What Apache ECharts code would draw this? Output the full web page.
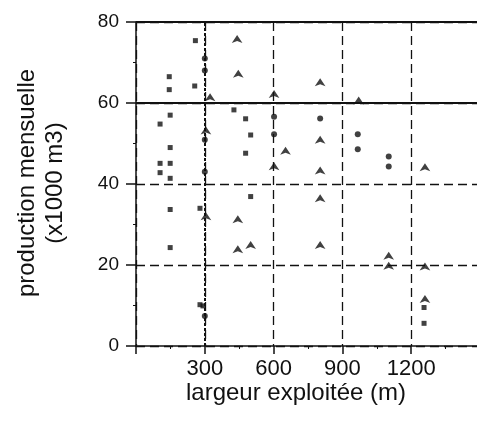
<!DOCTYPE html>
<html>
<head>
<meta charset="utf-8">
<script src="https://cdn.jsdelivr.net/npm/echarts@6/dist/echarts.min.js"></script>
<style>html,body{margin:0;padding:0;background:#fff}#c{width:477px;height:432px}</style>
</head>
<body>
<div id="c"></div>
<script>
// --- data (largeur exploitée m, production x1000 m3) ---
var squares = [[259,75.4],[145,66.5],[145,63.3],[256,64.2],[427,58.3],[478,56.1],[149,57],[105,54.8],[500,52.1],[149,49],[478,47.6],[105,45.1],[149,45.1],[105,42.8],[149,41.4],[500,36.9],[149,33.7],[149,24.3],[279,34],[279,10.2],[292,9.9],[1256,9.5],[1256,5.6]];
var dots = [[300,71],[300,68],[300,43],[602,56.6],[602,52.3],[300,50.9],[803,56.2],[967,52.3],[967,48.6],[1102,44.3],[1102,46.8],[300,7.4]];
var arrows = [[441,76.8],[446,68.2],[323,62.4],[803,66.1],[602,63.2],[305,54.2],[652,49.2],[602,45.4],[803,44.3],[803,51.9],[803,37.5],[305,33],[444,32.3],[444,24.9],[500,25.9],[803,25.9],[971,61.6],[1260,45.1],[1102,23.3],[1260,20.6],[1260,12.6],[1102,20.8]];
var crosses = [[573,42.5],[1102,48.8]];
var xTickLabels = [300, 600, 900, 1200];
var yTickLabels = [0, 20, 40, 60, 80];
var xTitle = 'largeur exploitée (m)';
var yTitle = 'production mensuelle\n(x1000 m3)';

var chart = echarts.init(document.getElementById('c'), null, {renderer: 'canvas'});
var ff = 'Liberation Sans, Arial, sans-serif';
var black = '#111';
function sc(name, data, symbol, size) {
  return {type: 'scatter', name: name, data: data, symbol: symbol, symbolSize: size,
    itemStyle: {color: black}, silent: true, z: 5};
}
var option = {
  animation: false,
  backgroundColor: '#fff',
  grid: {left: 136, top: 22, width: 344, height: 324, containLabel: false, outerBoundsMode: 'none'},
  xAxis: {
    type: 'value', min: 0, max: 1500, interval: 300,
    axisLine: {show: true, onZero: false, lineStyle: {color: black, width: 1.5}},
    axisTick: {show: true, length: 8, lineStyle: {color: black, width: 1.5}},
    minorTick: {show: true, splitNumber: 2, length: 3, lineStyle: {color: black}},
    axisLabel: {color: black, fontSize: 22, fontFamily: ff, margin: 12,
      formatter: function (v) { return xTickLabels.indexOf(v) >= 0 ? String(v) : ''; }},
    splitLine: {show: true, lineStyle: {color: black, width: 1.3, type: [9, 5]}}
  },
  yAxis: {
    type: 'value', min: 0, max: 80, interval: 20,
    axisLine: {show: true, onZero: false, lineStyle: {color: black, width: 1.5}},
    axisTick: {show: true, length: 10, lineStyle: {color: black, width: 1.5}},
    minorTick: {show: true, splitNumber: 2, length: 3, lineStyle: {color: black}},
    axisLabel: {color: black, fontSize: 19, fontFamily: ff, margin: 17, padding: [0, 0, 9, 0],
      formatter: function (v) { return yTickLabels.indexOf(v) >= 0 ? String(v) : ''; }},
    splitLine: {show: true, lineStyle: {color: black, width: 1.3, type: [9, 5]}}
  },
  graphic: [
    {type: 'text', x: 41, y: 183, rotation: Math.PI / 2,
      style: {text: yTitle, font: '24px ' + ff, fill: black, align: 'center', verticalAlign: 'middle', lineHeight: 28}},
    {type: 'text', x: 296, y: 393,
      style: {text: xTitle, font: '24px ' + ff, fill: black, align: 'center', verticalAlign: 'middle'}}
  ],
  series: [
    {type: 'scatter', data: [], silent: true,
      markLine: {silent: true, symbol: 'none', label: {show: false}, animation: false,
        data: [
          {yAxis: 60, lineStyle: {color: black, width: 2.2, type: 'solid'}},
          {yAxis: 80, lineStyle: {color: black, width: 2.2, type: 'solid'}},
          {xAxis: 300, lineStyle: {color: black, width: 2, type: [3, 2]}}
        ]}},
    sc('squares', squares, 'rect', 5),
    sc('dots', dots, 'circle', 6),
    sc('arrows', arrows, 'arrow', 8),
    sc('crosses', crosses, 'path://M0,0L10,10M10,0L0,10Z', 7)
  ]
};
chart.setOption(option);
</script>
</body>
</html>
